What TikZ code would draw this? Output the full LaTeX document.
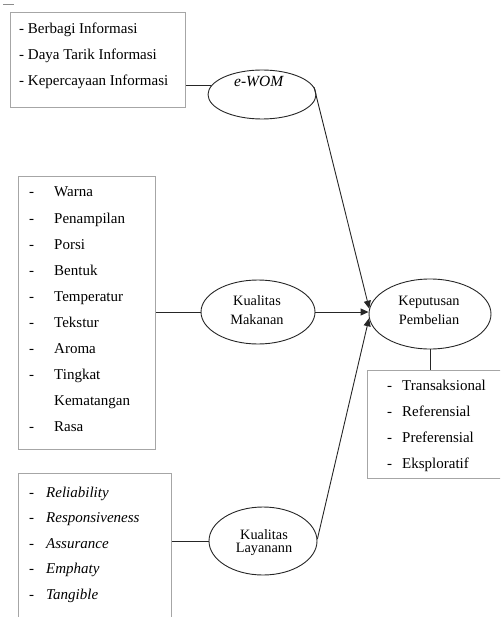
\documentclass[tikz,border=0pt]{standalone}
\usepackage{fontspec}
\setmainfont{Liberation Serif}
\usetikzlibrary{shapes.geometric,arrows.meta}
\begin{document}
\begin{tikzpicture}[x=1pt,y=-1pt,
  boxst/.style={draw=black!35, line width=0.9pt, rectangle, inner sep=0pt, anchor=north west},
  ell/.style={draw=black!85, line width=0.9pt, ellipse, inner sep=0pt},
  conn/.style={draw=black!85, line width=0.9pt},
  arr/.style={conn, -{Triangle[length=8pt,width=7pt]}},
  btxt/.style={inner sep=0pt, anchor=base west, font=\fontsize{15}{18}\selectfont},
  etxt/.style={inner sep=0pt, anchor=base, font=\fontsize{14.3}{17}\selectfont}]
\useasboundingbox (0,0) rectangle (500,617);
\clip (0,0) rectangle (500,617);
% stray mark
\coordinate (m1) at (3,4); \coordinate (m2) at (14,4);
\draw[draw=black!45, line width=0.8pt] (m1) -- (m2);
% boxes
\node[boxst, minimum width=175pt, minimum height=95pt] (b1) at (10,12) {};
\node[boxst, minimum width=137pt, minimum height=273pt] (b2) at (18,176) {};
\node[boxst, minimum width=153pt, minimum height=160pt] (b3) at (18,473) {};
\node[boxst, minimum width=150pt, minimum height=108pt] (b4) at (367,370) {};
% box 1 text
\node[btxt] (t11) at (19,34) {- Berbagi Informasi};
\node[btxt] (t12) at (19,60) {- Daya Tarik Informasi};
\node[btxt] (t13) at (19,86) {- Kepercayaan Informasi};
% box 2 text
\foreach \w [count=\i] in {Warna,Penampilan,Porsi,Bentuk,Temperatur,Tekstur,Aroma,Tingkat,Kematangan,Rasa}{
  \pgfmathsetmacro{\yy}{197+26.1*(\i-1)}
  \node[btxt] (w\i) at (54,\yy) {\w};
}
\foreach \i in {1,2,3,4,5,6,7,8,10}{
  \pgfmathsetmacro{\yy}{197+26.1*(\i-1)}
  \node[btxt] (d\i) at (29,\yy) {-};
}
% box 3 text
\foreach \w [count=\i] in {Reliability,Responsiveness,Assurance,Emphaty,Tangible}{
  \pgfmathsetmacro{\yy}{497+25.5*(\i-1)}
  \node[btxt] (s\i) at (46,\yy) {\textit{\w}};
  \node[btxt] (sd\i) at (29,\yy) {-};
}
% box 4 text
\foreach \w [count=\i] in {Transaksional,Referensial,Preferensial,Eksploratif}{
  \pgfmathsetmacro{\yy}{390+26*(\i-1)}
  \node[btxt] (k\i) at (402,\yy) {\w};
  \node[btxt] (kd\i) at (387,\yy) {-};
}
% ellipses
\node[ell, minimum width=108pt, minimum height=49pt] (ewom) at (262,94.5) {};
\node[etxt, font=\fontsize{15.5}{18}\selectfont] (ewomt) at (259,87) {\textit{e-WOM}};
\node[ell, minimum width=114pt, minimum height=64pt] (km) at (258,312) {};
\node[etxt] (kmt1) at (257,305) {Kualitas};
\node[etxt] (kmt2) at (257,324) {Makanan};
\node[ell, minimum width=122pt, minimum height=70pt] (kp) at (430,314) {};
\node[etxt] (kpt1) at (429,305) {Keputusan};
\node[etxt] (kpt2) at (429,324) {Pembelian};
\node[ell, minimum width=108pt, minimum height=68pt] (kl) at (263,541) {};
\node[etxt] (klt1) at (264,539) {Kualitas};
\node[etxt] (klt2) at (264,552) {Layanann};
% connectors
\draw[conn] (ewom.170) -- (ewom.170 -| b1.east);
\draw[conn] (km.west) -- (km.west -| b2.east);
\draw[conn] (kl.west) -- (kl.west -| b3.east);
\draw[conn] (kp.south) -- (kp.south |- b4.north);
\draw[arr] (ewom.8) -- (kp.175);
\draw[arr] (km.east) -- (km.east -| kp.west);
\draw[arr] (kl.2) -- (kp.184);
\end{tikzpicture}
\end{document}
